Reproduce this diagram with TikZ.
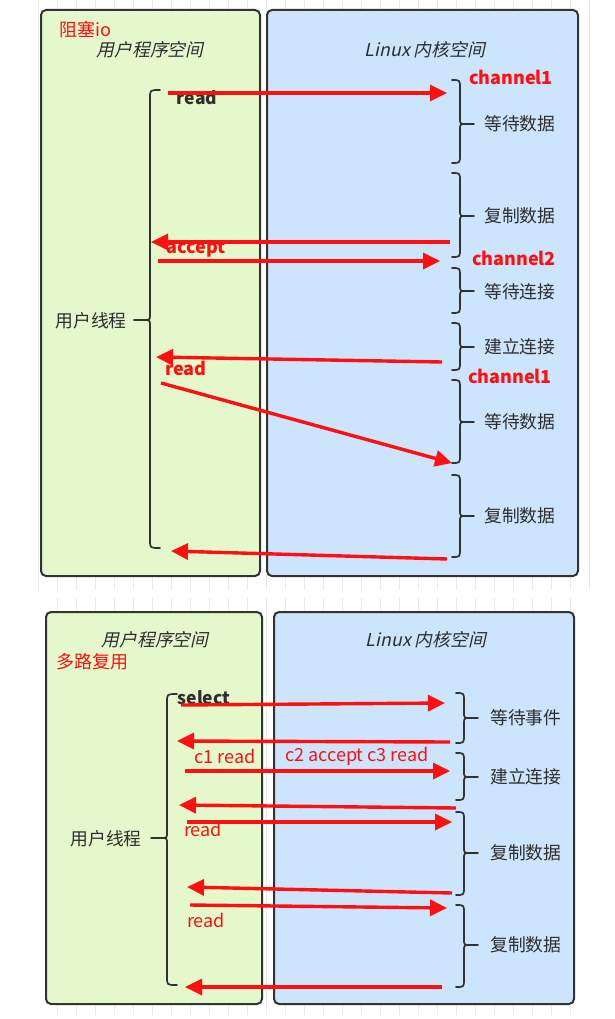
\documentclass[tikz,border=0pt]{standalone}
\usepackage{fontspec}
\setmainfont{Noto Sans CJK SC}[AutoFakeSlant=0.22]
\usetikzlibrary{arrows.meta}
\definecolor{ugreen}{HTML}{E4F8CC}
\definecolor{kblue}{HTML}{CCE4FC}
\definecolor{bgray}{HTML}{333333}
\definecolor{tgray}{HTML}{2E2E2E}
\definecolor{fred}{HTML}{FF1010}
\definecolor{gridc}{HTML}{EAEAEA}
\newcommand\RBr[4]{% hook x, top, mid, bottom
  \draw[brc] (#1,#2) .. controls (#1+8,#2) .. (#1+8,#2+8) -- (#1+8,#3-6)
    .. controls (#1+8,#3) .. (#1+14,#3) -- (#1+22,#3);
  \draw[brc] (#1+14,#3) .. controls (#1+8,#3) .. (#1+8,#3+6) -- (#1+8,#4-8)
    .. controls (#1+8,#4) .. (#1,#4);}
\newcommand\LBr[4]{% hook x, top, mid, bottom
  \draw[brc] (#1,#2) .. controls (#1-10,#2) .. (#1-10,#2+8) -- (#1-10,#3-6)
    .. controls (#1-10,#3) .. (#1-16,#3) -- (#1-26,#3);
  \draw[brc] (#1-16,#3) .. controls (#1-10,#3) .. (#1-10,#3+6) -- (#1-10,#4-8)
    .. controls (#1-10,#4) .. (#1,#4);}
\begin{document}
\begin{tikzpicture}[x=1pt,y=-1pt,
  panelU/.style={draw=bgray, line width=2pt, rounded corners=5pt, fill=ugreen, anchor=north west, inner sep=0},
  panelK/.style={draw=bgray, line width=2pt, rounded corners=5pt, fill=kblue, anchor=north west, inner sep=0},
  flow/.style={draw=fred, line width=3.4pt, -{Triangle[length=17pt,width=16pt]}},
  brc/.style={draw=bgray, line width=1.7pt, line cap=round},
  lbl/.style={text=tgray, font=\fontsize{17.8}{18}\selectfont, inner sep=0},
  ttl/.style={text=tgray, font=\fontsize{17.8}{18}\selectfont\itshape, inner sep=0},
  rlbl/.style={text=fred, font=\fontsize{18}{18}\selectfont, inner sep=0},
  rbold/.style={text=fred, font=\fontsize{18}{18}\selectfont\bfseries, inner sep=0},
  dbold/.style={text=tgray, font=\fontsize{17.5}{18}\selectfont\bfseries, inner sep=0},
]
\useasboundingbox (0,0) rectangle (615,1019);
\fill[white] (0,0) rectangle (615,1019);
\draw[gridc, line width=0.6pt, xstep=19, ystep=18.5] (28,0) grid (592,590);
\draw[gridc, line width=0.6pt, xstep=19, ystep=18.5] (40,598) grid (588,1015);

% ===== top panel =====
\node[panelU, minimum width=219pt, minimum height=566pt] (u1) at (40,9) {};
\node[panelK, minimum width=311pt, minimum height=566pt] (k1) at (266,9) {};
\node[rlbl] (t1) at (85,30) {阻塞io};
\node[ttl] (t2) at (150,50) {用户程序空间};
\node[ttl] (t3) at (425,50) {Linux 内核空间};
\node[lbl] (ut1) at (91,321) {用户线程};
\LBr{160}{90}{320}{548}
\node[dbold] (r1) at (197,98) {read};
\node[rbold] (c1) at (511,77) {channel1};
\node[rbold] (ac) at (196,249) {accept};
\node[rbold] (c2) at (514,258) {channel2};
\node[rbold] (r2) at (186,368) {read};
\node[rbold] (c3) at (510,376) {channel1};
\RBr{452}{80}{124}{163}
\RBr{452}{173}{216}{257}
\RBr{452}{268}{291}{313}
\RBr{452}{323}{347}{370}
\RBr{452}{380}{422}{463}
\RBr{452}{475}{516}{557}
\node[lbl, anchor=west] (s1) at (484,124) {等待数据};
\node[lbl, anchor=west] (s2) at (484,216) {复制数据};
\node[lbl, anchor=west] (s3) at (484,292) {等待连接};
\node[lbl, anchor=west] (s4) at (484,347) {建立连接};
\node[lbl, anchor=west] (s5) at (484,422) {等待数据};
\node[lbl, anchor=west] (s6) at (484,516) {复制数据};
\coordinate (a1s) at (168,93);  \coordinate (a1e) at (447,93);
\coordinate (a2s) at (450,242); \coordinate (a2e) at (151,242);
\coordinate (a3s) at (158,261); \coordinate (a3e) at (440,261);
\coordinate (a4s) at (442,362); \coordinate (a4e) at (156,357);
\coordinate (a5s) at (161,383); \coordinate (a5e) at (452,463);
\coordinate (a6s) at (447,559); \coordinate (a6e) at (171,551);
\draw[flow] (a1s) -- (a1e);
\draw[flow] (a2s) -- (a2e);
\draw[flow] (a3s) -- (a3e);
\draw[flow] (a4s) -- (a4e);
\draw[flow] (a5s) -- (a5e);
\draw[flow] (a6s) -- (a6e);

% ===== bottom panel =====
\node[panelU, minimum width=216pt, minimum height=392pt] (u2) at (45,611) {};
\node[panelK, minimum width=300pt, minimum height=392pt] (k2) at (273,611) {};
\node[ttl] (b2) at (155,640) {用户程序空间};
\node[ttl] (b3) at (426,640) {Linux 内核空间};
\node[rlbl] (b1) at (92,662) {多路复用};
\node[lbl] (ut2) at (106,839) {用户线程};
\LBr{177}{694}{838}{985}
\node[dbold] (sel) at (204,698) {select};
\node[rlbl] (q1) at (225,756) {c1 read};
\node[rlbl] (q2) at (357,756) {c2 accept c3 read};
\node[rlbl] (q3) at (203,829) {read};
\node[rlbl] (q4) at (206,920) {read};
\RBr{456}{693}{718}{743}
\RBr{456}{753}{777}{800}
\RBr{456}{812}{853}{895}
\RBr{456}{905}{945}{987}
\node[lbl, anchor=west] (p1) at (490,718) {等待事件};
\node[lbl, anchor=west] (p2) at (490,777) {建立连接};
\node[lbl, anchor=west] (p3) at (490,853) {复制数据};
\node[lbl, anchor=west] (p4) at (490,945) {复制数据};
\coordinate (b1s) at (181,705); \coordinate (b1e) at (445,703);
\coordinate (b2s) at (450,742); \coordinate (b2e) at (177,741);
\coordinate (b3s) at (185,771); \coordinate (b3e) at (450,771);
\coordinate (b4s) at (456,808); \coordinate (b4e) at (179,805);
\coordinate (b5s) at (187,822); \coordinate (b5e) at (452,822);
\coordinate (b6s) at (452,893); \coordinate (b6e) at (187,887);
\coordinate (b7s) at (190,905); \coordinate (b7e) at (447,908);
\coordinate (b8s) at (442,987); \coordinate (b8e) at (185,987);
\draw[flow] (b1s) -- (b1e);
\draw[flow] (b2s) -- (b2e);
\draw[flow] (b3s) -- (b3e);
\draw[flow] (b4s) -- (b4e);
\draw[flow] (b5s) -- (b5e);
\draw[flow] (b6s) -- (b6e);
\draw[flow] (b7s) -- (b7e);
\draw[flow] (b8s) -- (b8e);
\end{tikzpicture}
\end{document}
